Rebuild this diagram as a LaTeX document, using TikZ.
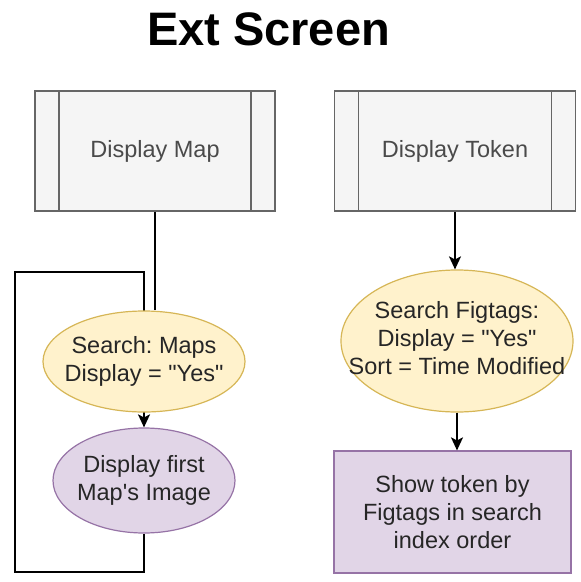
\documentclass[tikz,border=0pt]{standalone}
\usepackage{fontspec}
\setmainfont{Liberation Sans}
\usetikzlibrary{shapes.geometric,arrows.meta,backgrounds,positioning}
\definecolor{procfill}{HTML}{F5F5F5}
\definecolor{procdraw}{HTML}{666666}
\definecolor{proctext}{HTML}{4A4A4A}
\definecolor{yelfill}{HTML}{FFF2CC}
\definecolor{yeldraw}{HTML}{D6B656}
\definecolor{purfill}{HTML}{E1D5E7}
\definecolor{purdraw}{HTML}{9673A6}
\frenchspacing
\newcommand{\boxfont}{\fontsize{23.5}{28}\selectfont}
\newcommand{\elltext}[1]{\makebox[0pt]{\begin{tabular}{@{}c@{}}#1\end{tabular}}}
\newcommand{\qyes}{\textquotedbl Yes\textquotedbl}
\tikzstyle{process}=[draw=procdraw,fill=procfill,text=proctext,line width=1.2pt,
  minimum width=240pt,minimum height=120pt,inner sep=0pt,font=\boxfont,
  path picture={\draw[procdraw,line width=1.2pt]
    ([xshift=24pt]path picture bounding box.north west) --
    ([xshift=24pt]path picture bounding box.south west)
    ([xshift=-24pt]path picture bounding box.north east) --
    ([xshift=-24pt]path picture bounding box.south east);}]
\tikzstyle{yellowell}=[draw=yeldraw,fill=yelfill,ellipse,line width=1.2pt,
  inner sep=0pt,text=black!85,font=\boxfont]
\tikzstyle{purpell}=[draw=purdraw,fill=purfill,ellipse,line width=1.2pt,
  inner sep=0pt,text=black!85,font=\boxfont]
\tikzstyle{purpbox}=[draw=purdraw,fill=purfill,line width=1.2pt,inner sep=0pt,
  minimum width=237pt,minimum height=122pt,align=center,text=black!85,font=\boxfont]
\tikzstyle{flow}=[-{Stealth[length=13pt,width=12pt,inset=3pt]},line width=1.4pt]
\tikzstyle{link}=[line width=1.4pt]

\begin{document}
\begin{tikzpicture}[x=1pt,y=1pt]
  \useasboundingbox (0,0) rectangle (581,-582);
  \node[font=\fontsize{47}{56}\selectfont\bfseries] (title) at (268.5,-29) {Ext Screen};

  % left column
  \node[process] (dmap) at (155,-151) {Display Map};
  \node[yellowell, minimum width=202pt, minimum height=101pt] (smaps) at (144,-361.5)
    {\elltext{Search: Maps\\Display = \qyes}};
  \node[purpell, minimum width=182pt, minimum height=105pt] (img) at (144,-480.5)
    {\elltext{Display first\\Map\textquotesingle s Image}};

  % right column
  \node[process, minimum width=241pt] (dtok) at (455,-151) {Display Token};
  \node[yellowell, minimum width=232pt, minimum height=142pt] (sfig) at (457,-341)
    {\elltext{Search Figtags:\\Display = \qyes\\Sort = Time Modified}};
  \node[purpbox] (tok) at (452.5,-512) {Show token by\\Figtags in search\\index order};

  \coordinate (lpbot) at (15,-572);
  \coordinate (lptop) at (15,-272);

  \draw[link] (dmap.south) -- (dmap.south |- smaps.north);
  \begin{scope}[on background layer]
    \draw[flow] (img.south) |- (lpbot) -- (lptop) -| (img.north);
  \end{scope}
  \draw[flow] (dtok.south) -- (dtok.south |- sfig.north);
  \draw[flow] (sfig.south) -- (sfig.south |- tok.north);
\end{tikzpicture}
\end{document}
